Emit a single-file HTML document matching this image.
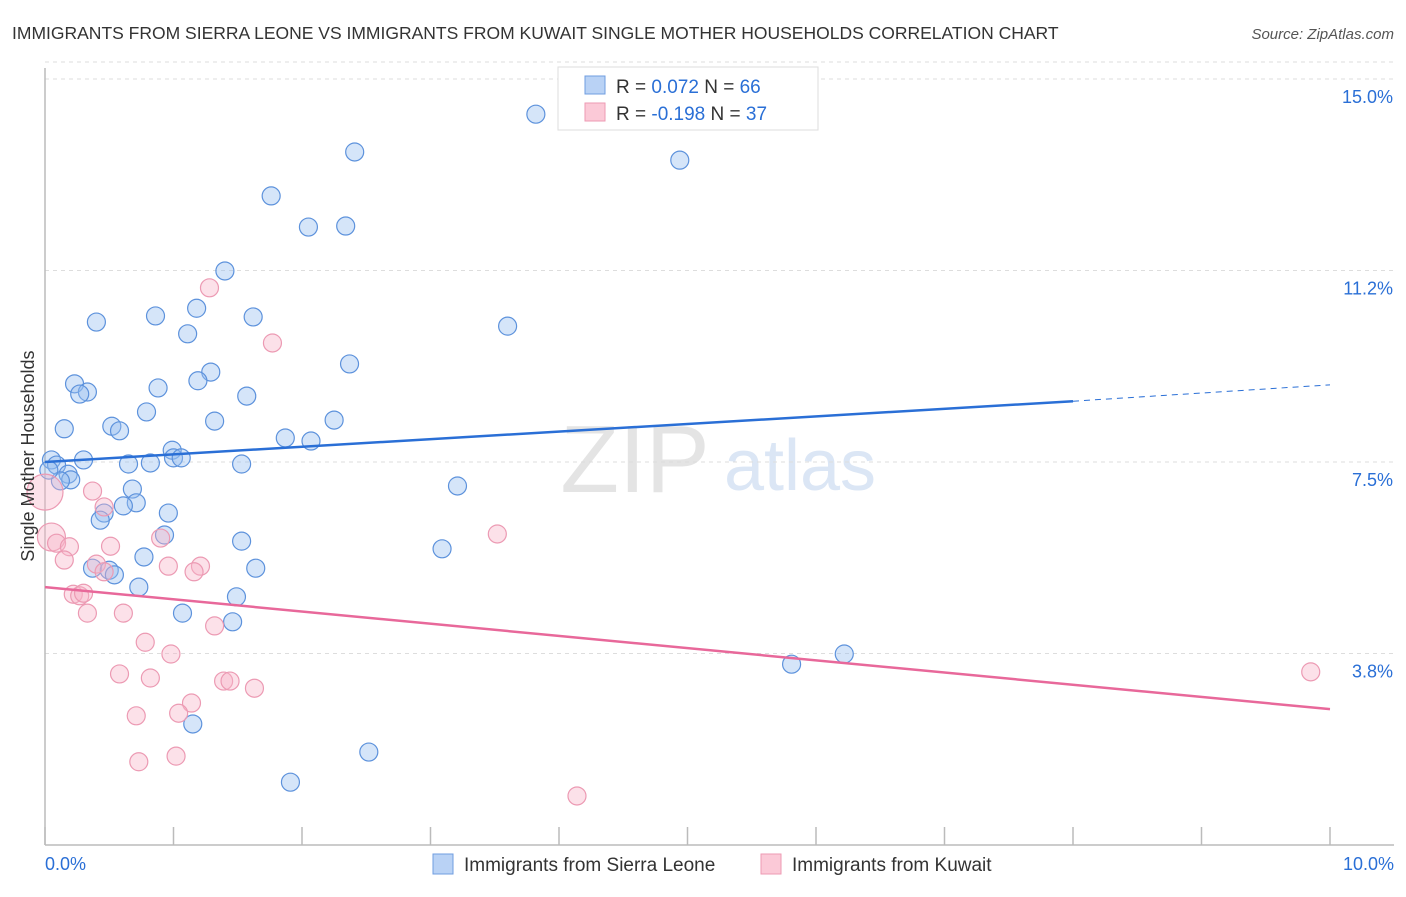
<!DOCTYPE html>
<html><head><meta charset="utf-8"><style>
body{margin:0;background:#fff;font-family:"Liberation Sans",sans-serif;}
svg text{font-family:"Liberation Sans",sans-serif;}
</style></head><body>
<svg width="1406" height="892" id="chart">
<text x="12" y="39" font-size="17.5" fill="#333">IMMIGRANTS FROM SIERRA LEONE VS IMMIGRANTS FROM KUWAIT SINGLE MOTHER HOUSEHOLDS CORRELATION CHART</text>
<text x="1394" y="39" font-size="15" fill="#555" font-style="italic" text-anchor="end">Source: ZipAtlas.com</text>
<text x="635" y="492" font-size="96" fill="#e4e4e4" font-family="Liberation Serif" text-anchor="middle">ZIP</text>
<text x="800" y="490" font-size="72" fill="#dbe6f5" text-anchor="middle">atlas</text>
<g id="grid"></g><g id="axes"></g><g id="marks"></g>
<text transform="translate(34,456) rotate(-90)" font-size="18" fill="#333" text-anchor="middle">Single Mother Households</text>
<g>
<rect x="558" y="67" width="260" height="63" fill="#fff" stroke="#ddd"/>
<rect x="585" y="76" width="20" height="18" fill="#b9d2f5" stroke="#6f9de0"/>
<rect x="585" y="103" width="20" height="18" fill="#fbc9d7" stroke="#ee9ab3"/>
<text x="616" y="93" font-size="19" fill="#333">R = <tspan fill="#2a6fd6">0.072</tspan>   N = <tspan fill="#2a6fd6">66</tspan></text>
<text x="616" y="120" font-size="19" fill="#333">R = <tspan fill="#2a6fd6">-0.198</tspan>   N = <tspan fill="#2a6fd6">37</tspan></text>
</g>
<g>
<rect x="433" y="854" width="20" height="20" fill="#b9d2f5" stroke="#6f9de0"/>
<text x="464" y="871" font-size="19" fill="#333">Immigrants from Sierra Leone</text>
<rect x="761" y="854" width="20" height="20" fill="#fbc9d7" stroke="#ee9ab3"/>
<text x="792" y="871" font-size="19" fill="#333">Immigrants from Kuwait</text>
</g>
</svg>
<script>
const yTicks=[15.0,11.25,7.5,3.75];
const yTickLabels=["15.0%","11.2%","7.5%","3.8%"];
const xTickLabels=["0.0%","10.0%"];
const blueX=[3.82,2.41,4.94,1.76,2.05,2.34,1.40,0.40,0.86,1.18,1.62,3.60,1.11,2.37,1.29,1.19,0.23,0.33,0.27,0.88,1.57,0.79,2.25,1.32,0.52,0.15,0.58,1.87,2.07,0.99,1.00,1.06,0.05,0.30,0.09,0.65,0.82,1.53,0.18,0.20,0.12,3.21,0.68,0.71,0.61,0.46,0.43,0.96,0.93,1.53,3.09,0.77,0.37,0.50,0.54,1.64,0.73,1.49,1.07,1.46,5.81,6.22,1.15,2.52,1.91,0.03];
const blueY=[14.31,13.57,13.41,12.71,12.10,12.12,11.24,10.24,10.36,10.51,10.34,10.16,10.01,9.42,9.26,9.09,9.03,8.87,8.83,8.95,8.79,8.48,8.32,8.30,8.20,8.15,8.11,7.97,7.91,7.73,7.58,7.58,7.54,7.54,7.44,7.46,7.48,7.46,7.26,7.15,7.13,7.03,6.97,6.70,6.64,6.50,6.36,6.50,6.07,5.95,5.80,5.64,5.42,5.38,5.29,5.42,5.05,4.86,4.54,4.37,3.54,3.74,2.37,1.82,1.23,7.34];
const pinkX=[0.00,0.05,1.28,1.77,0.37,0.46,0.09,0.19,0.15,0.51,0.90,0.40,0.46,0.96,1.21,1.16,3.52,0.22,0.27,0.30,0.33,0.61,0.78,1.32,0.98,0.58,0.82,1.39,1.44,1.63,1.14,0.71,1.04,0.73,1.02,4.14,9.85];
const pinkY=[6.91,6.03,10.91,9.83,6.93,6.62,5.91,5.84,5.58,5.85,6.01,5.50,5.35,5.46,5.46,5.35,6.09,4.91,4.88,4.93,4.54,4.54,3.97,4.29,3.74,3.35,3.27,3.21,3.21,3.07,2.78,2.53,2.58,1.63,1.74,0.96,3.39];
const pinkR=[18,14,9,9,9,9,9,9,9,9,9,9,9,9,9,9,9,9,9,9,9,9,9,9,9,9,9,9,9,9,9,9,9,9,9,9,9];
const blueTrend=[7.50,8.69,9.01]; // at x=0, 8, 10
const blueTrendX=[0,8,10];
const pinkTrend=[5.05,2.66];
const pinkTrendX=[0,10];
const X=v=>45+v*128.5, Y=v=>845-v*51.07;
const NS="http://www.w3.org/2000/svg";
function mk(parent,tag,attrs){const e=document.createElementNS(NS,tag);for(const k in attrs)e.setAttribute(k,attrs[k]);document.getElementById(parent).appendChild(e);return e;}
let t=mk('grid','line',{x1:45,x2:1394,y1:Y(15)-17,y2:Y(15)-17,stroke:'#ddd','stroke-dasharray':'4,4'});
yTicks.forEach((v,i)=>{
 const l=mk('grid','line',{x1:45,x2:1394,y1:Y(v),y2:Y(v),stroke:'#ddd','stroke-dasharray':'4,4'});
 
 
 const tx=mk('axes','text',{x:1393,y:Y(v)+24,'font-size':18,fill:'#2a6fd6','text-anchor':'end'});
 tx.textContent=yTickLabels[i];
 
 
});
let a=mk('axes','line',{x1:45,x2:45,y1:68,y2:845,stroke:'#bbb','stroke-width':1.5});


a=mk('axes','line',{x1:45,x2:1394,y1:845,y2:845,stroke:'#bbb','stroke-width':1.5});


for(let i=0;i<=10;i++){const tk=mk('axes','line',{x1:X(i),x2:X(i),y1:827,y2:845,stroke:'#bbb','stroke-width':1.5});
 
 }
[[0,'start',45],[1,'end',1394]].forEach(([i,an,x])=>{const tx=mk('axes','text',{x:x,y:870,'font-size':18,fill:'#2a6fd6','text-anchor':an});tx.textContent=xTickLabels[i];
 
 });
blueX.forEach((v,i)=>{const c=mk('marks','circle',{cx:X(v),cy:Y(blueY[i]),r:9,fill:'rgba(150,190,240,0.4)',stroke:'#5d92dc','stroke-width':1.2});
 
 });
pinkX.forEach((v,i)=>{const c=mk('marks','circle',{cx:X(v),cy:Y(pinkY[i]),r:pinkR[i],fill:'rgba(248,180,200,0.4)',stroke:'#ec9ab3','stroke-width':1.2});
 
 });
let ln=mk('marks','line',{x1:X(blueTrendX[0]),y1:Y(blueTrend[0]),x2:X(blueTrendX[1]),y2:Y(blueTrend[1]),stroke:'#2a6fd6','stroke-width':2.5});


ln=mk('marks','line',{x1:X(blueTrendX[1]),y1:Y(blueTrend[1]),x2:X(blueTrendX[2]),y2:Y(blueTrend[2]),stroke:'#2a6fd6','stroke-width':1,'stroke-dasharray':'6,5'});


ln=mk('marks','line',{x1:X(pinkTrendX[0]),y1:Y(pinkTrend[0]),x2:X(pinkTrendX[1]),y2:Y(pinkTrend[1]),stroke:'#e8689a','stroke-width':2.5});


</script>
</body></html>
